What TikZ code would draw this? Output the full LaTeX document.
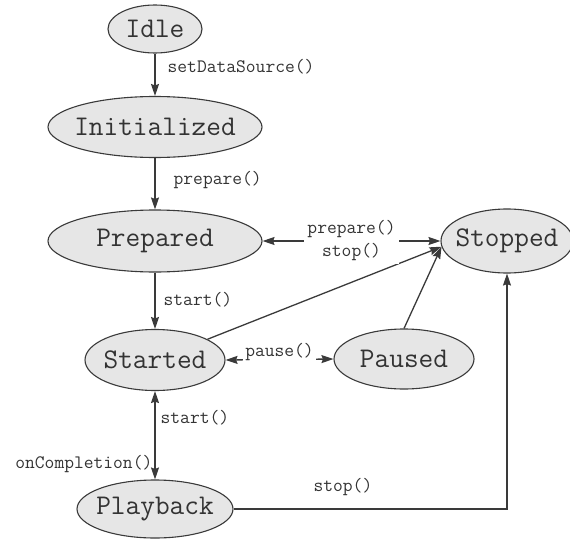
\documentclass[tikz,border=0pt]{standalone}
\usepackage{fontspec}
\usetikzlibrary{arrows.meta,shapes.geometric}
\definecolor{ink}{HTML}{333333}
\definecolor{edge}{HTML}{3A3A3A}
\definecolor{statefill}{HTML}{E6E6E6}
\begin{document}
\begin{tikzpicture}[x=1pt,y=-1pt,
  state/.style={ellipse, draw=edge, fill=statefill, line width=1.1pt, inner ysep=0pt, inner xsep=-7pt,
    font=\ttfamily\fontsize{28.5}{30}\selectfont, text=ink},
  lbl/.style={font=\ttfamily\fontsize{19}{23}\selectfont, text=ink, inner sep=2pt},
  tip/.tip={Stealth[length=12pt,width=8pt,inset=1.5pt]},
  conn/.style={draw=edge, line width=1.3pt, -tip},
  conn2/.style={draw=edge, line width=1.3pt, tip-tip},
]
\useasboundingbox (0,0) rectangle (570,538);

\node[state, minimum width=94pt, minimum height=48pt] (idle) at (155,29) {Idle};
\node[state, minimum width=214pt, minimum height=61pt] (init) at (155,127) {Initialized};
\node[state, minimum width=214pt, minimum height=62pt] (prep) at (155,241) {Prepared};
\node[state, minimum width=140pt, minimum height=61pt] (started) at (155,360) {Started};
\node[state, minimum width=140pt, minimum height=60pt] (paused) at (404,359) {Paused};
\node[state, minimum width=132pt, minimum height=64pt] (stopped) at (507,241) {Stopped};
\node[state, minimum width=156pt, minimum height=58pt] (play) at (155,509) {Playback};

\draw[conn] (idle) -- node[lbl, anchor=west, pos=0.32, xshift=10pt] {setDataSource()} (init);
\draw[conn] (init) -- node[lbl, anchor=west, pos=0.43, xshift=16pt] {prepare()} (prep);
\draw[conn] (prep) -- node[lbl, anchor=west, pos=0.48, xshift=6pt] {start()} (started);
\draw[conn2] (started.south) -- node[lbl, anchor=west, pos=0.3, xshift=3pt] {start()}
  node[lbl, anchor=east, pos=0.82] {onCompletion()} (play.north);

\draw[conn] (paused.north) -- (stopped.185);
\draw[conn] (started) -- (stopped.185);
\draw[conn2] (prep.east) -- node[lbl, fill=white, align=center, inner sep=3pt] {prepare()\\stop()} (stopped.west);
\draw[conn2] (started.east) -- node[lbl, fill=white, yshift=7pt] {pause()} (paused.west);
\draw[conn] (play.east) -| node[lbl, pos=0.2, yshift=22pt] {stop()} (stopped.south);
\end{tikzpicture}
\end{document}
